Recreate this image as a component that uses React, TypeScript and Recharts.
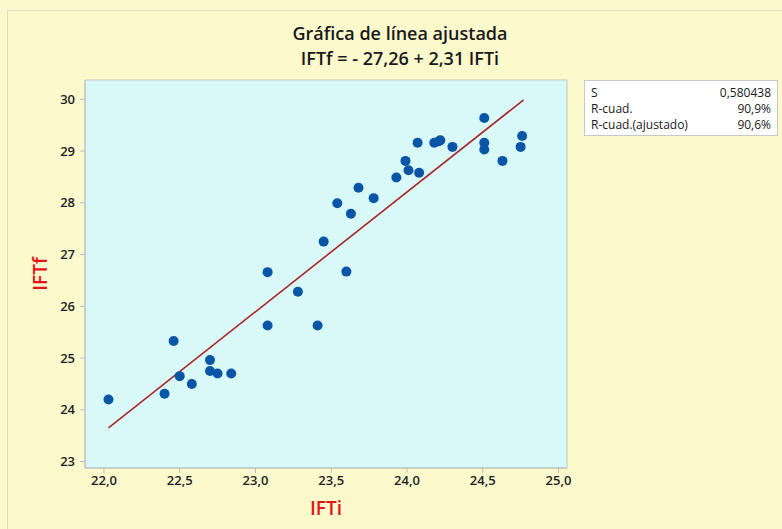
import {
  ReferenceArea,
  ReferenceLine,
  Scatter,
  ScatterChart,
  XAxis,
  YAxis,
} from "recharts"

// IFTi (x) vs IFTf (y)
const iftI = [
  22.03, 22.4, 22.46, 22.5, 22.58, 22.7, 22.7, 22.75, 22.84, 23.08, 23.08,
  23.28, 23.41, 23.45, 23.54, 23.6, 23.63, 23.68, 23.78, 23.93, 23.99, 24.01,
  24.07, 24.08, 24.18, 24.21, 24.22, 24.3, 24.51, 24.51, 24.51, 24.63, 24.75,
  24.76,
]
const iftF = [
  24.2, 24.31, 25.33, 24.65, 24.5, 24.96, 24.75, 24.7, 24.7, 25.63, 26.66,
  26.28, 25.63, 27.25, 27.99, 26.67, 27.79, 28.29, 28.09, 28.49, 28.81, 28.63,
  29.16, 28.58, 29.16, 29.19, 29.21, 29.08, 29.64, 29.16, 29.03, 28.81, 29.08,
  29.29,
]

// fitted line end points as drawn in the reference
const fitX = [22.03, 24.77]
const fitY = [23.65, 29.99]

const xTicks = [22, 22.5, 23, 23.5, 24, 24.5, 25]
const yTicks = [23, 24, 25, 26, 27, 28, 29, 30]

const statLabels = ["S", "R-cuad.", "R-cuad.(ajustado)"]
const statValues = ["0,580438", "90,9%", "90,6%"]

const xDomain: [number, number] = [21.875, 25.056]
const yDomain: [number, number] = [22.875, 30.373]

const font = "'Open Sans', 'Noto Sans', sans-serif"

export default function App() {
  const points = iftI.map((x, i) => ({ x, y: iftF[i] }))
  const fitLine = fitX.map((x, i) => ({ x, y: fitY[i] }))

  const tickStyle = { fontSize: 13, fill: "#1e1e1e", fontFamily: font, fontWeight: 600 }

  return (
    <div
      style={{
        position: "absolute",
        left: 0,
        top: 0,
        width: 782,
        height: 529,
        overflow: "hidden",
        background: "#FCF9CD",
        fontFamily: font,
      }}
    >
      <div
        style={{
          position: "absolute",
          left: 7,
          top: 10,
          width: 800,
          height: 600,
          border: "1px solid #E2DFC4",
        }}
      />
      <div
        style={{
          position: "absolute",
          left: 250,
          width: 300,
          top: 21,
          textAlign: "center",
          fontSize: 18,
          lineHeight: "25px",
          fontWeight: 600,
          color: "#1a1a1a",
        }}
      >
        <div>Gráfica de línea ajustada</div>
        <div>IFTf = - 27,26 + 2,31 IFTi</div>
      </div>

      <ScatterChart
        width={782}
        height={529}
        margin={{ top: 80, right: 215, bottom: 31, left: 25 }}
        style={{ position: "absolute", left: 0, top: 0 }}
      >
        <ReferenceArea
          x1={xDomain[0]}
          x2={xDomain[1]}
          y1={yDomain[0]}
          y2={yDomain[1]}
          fill="#D9F9F8"
          fillOpacity={1}
          stroke="#C4C4C4"
          ifOverflow="visible"
        />
        <XAxis
          type="number"
          dataKey="x"
          domain={xDomain}
          ticks={xTicks}
          allowDataOverflow
          height={30}
          tickSize={5}
          tickMargin={3}
          stroke="#BDBDBD"
          tick={tickStyle}
          tickFormatter={(v: number) => v.toFixed(1).replace(".", ",")}
          label={{
            content: ({ viewBox }: any) => (
              <text
                x={viewBox.x + viewBox.width / 2}
                y={viewBox.y + 47}
                textAnchor="middle"
                fill="#E3141B"
                fontSize={19}
                fontWeight={600}
                fontFamily={font}
              >
                IFTi
              </text>
            ),
          }}
        />
        <YAxis
          type="number"
          dataKey="y"
          domain={yDomain}
          ticks={yTicks}
          allowDataOverflow
          width={60}
          tickSize={5}
          tickMargin={5}
          stroke="#BDBDBD"
          tick={tickStyle}
          label={{
            content: ({ viewBox }: any) => (
              <text
                x={0}
                y={0}
                transform={`translate(47, ${viewBox.y + viewBox.height / 2}) rotate(-90)`}
                textAnchor="middle"
                fill="#E3141B"
                fontSize={19}
                fontWeight={600}
                fontFamily={font}
              >
                IFTf
              </text>
            ),
          }}
        />
        <ReferenceLine
          segment={fitLine}
          stroke="#A82828"
          strokeWidth={1.6}
          ifOverflow="visible"
        />
        <Scatter
          data={points}
          fill="#0A55A5"
          isAnimationActive={false}
          shape={(p: any) => <circle cx={p.cx} cy={p.cy} r={5} fill="#0A55A5" />}
        />
      </ScatterChart>

      <div
        style={{
          position: "absolute",
          left: 584,
          top: 80,
          width: 194,
          height: 56,
          boxSizing: "border-box",
          background: "#ffffff",
          border: "1px solid #C8C8C8",
          padding: "4px 6px 0 6px",
          fontSize: 12,
          lineHeight: "16px",
          color: "#1a1a1a",
        }}
      >
        {statLabels.map((lab, i) => (
          <div key={lab} style={{ display: "flex", justifyContent: "space-between" }}>
            <span>{lab}</span>
            <span>{statValues[i]}</span>
          </div>
        ))}
      </div>
    </div>
  )
}
